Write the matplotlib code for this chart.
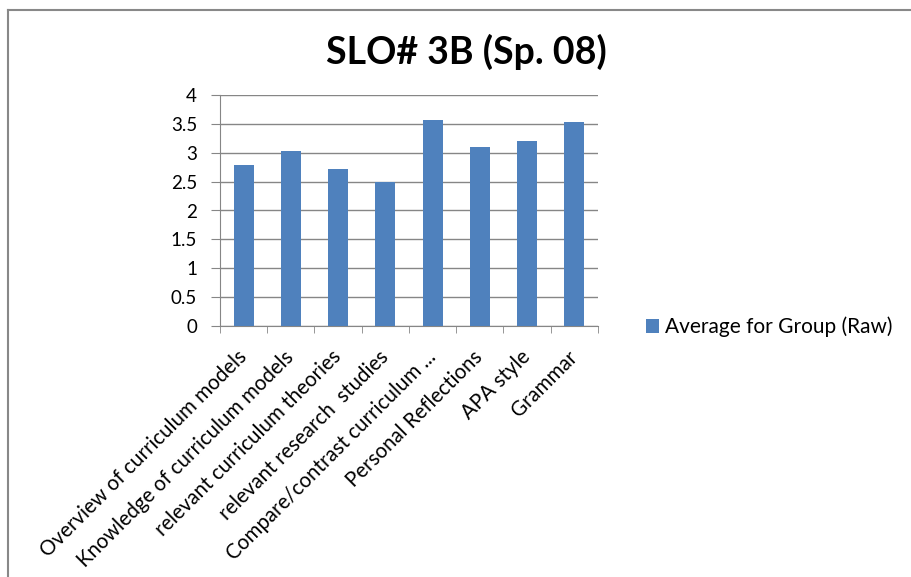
import matplotlib
matplotlib.use("Agg")
import matplotlib.pyplot as plt
from matplotlib.lines import Line2D
import numpy as np

categories = [
    "Overview of curriculum models",
    "Knowledge of curriculum models",
    "relevant curriculum theories",
    "relevant research  studies",
    "Compare/contrast curriculum ...",
    "Personal Reflections",
    "APA style",
    "Grammar",
]
averages = [2.78, 3.03, 2.72, 2.50, 3.56, 3.10, 3.20, 3.53]
series_name = "Average for Group (Raw)"
yticks = [0, 0.5, 1, 1.5, 2, 2.5, 3, 3.5, 4]

plt.rcParams['font.family'] = ['Lato', 'DejaVu Sans']
grey = "#868686"
bar_color = "#4F81BD"

fig = plt.figure(figsize=(9.12, 5.77), dpi=100)
ax = fig.add_axes([220 / 912, 1 - 326 / 577, 378 / 912, 231 / 577])

x = np.arange(len(categories))
ax.bar(x, averages, width=0.42, color=bar_color, label=series_name, zorder=3)

ax.set_xlim(-0.5, len(categories) - 0.5)
ax.set_ylim(0, 4)
ax.set_yticks(yticks)
ax.set_yticklabels([f"{v:g}" for v in yticks], fontsize=13.5)
ax.yaxis.grid(True, color=grey, linewidth=1, zorder=0)
ax.tick_params(axis='y', length=6.5, color=grey, pad=10)

# category labels at centres, tick marks between categories
ax.set_xticks(x)
ax.set_xticklabels(categories, fontsize=14.8, rotation=45, ha='right', va='center',
                   rotation_mode='anchor')
ax.tick_params(axis='x', which='major', length=0, pad=20)
ax.set_xticks(np.arange(len(categories) + 1) - 0.5, minor=True)
ax.tick_params(axis='x', which='minor', length=5, color=grey)

for side in ['top', 'right']:
    ax.spines[side].set_visible(False)
ax.spines['left'].set_color(grey)
ax.spines['bottom'].set_color(grey)

fig.text(466 / 912, 1 - 52 / 577, "SLO# 3B (Sp. 08)", fontsize=27,
         fontweight='bold', ha='center', va='center')

ax.legend(loc='center left', bbox_to_anchor=(636 / 912, 1 - 327 / 577),
          bbox_transform=fig.transFigure, frameon=False, fontsize=15,
          handlelength=0.6, handleheight=0.6, handletextpad=0.3, borderpad=0)

# chart area border (top and left visible)
fig.add_artist(Line2D([8.5 / 912, 1], [1 - 9.5 / 577, 1 - 9.5 / 577],
                      transform=fig.transFigure, color="#888888", linewidth=1.5))
fig.add_artist(Line2D([8.5 / 912, 8.5 / 912], [0, 1 - 9.5 / 577],
                      transform=fig.transFigure, color="#888888", linewidth=1.5))

fig.savefig("out.png", dpi=100, facecolor='white')
